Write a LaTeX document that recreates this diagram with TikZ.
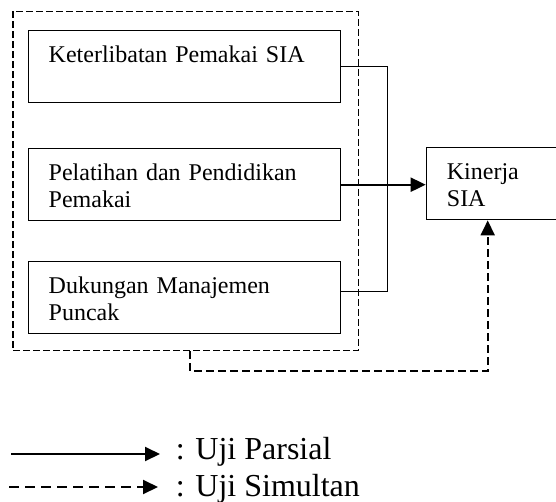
\documentclass[tikz,border=0pt]{standalone}
\usepackage{fontspec}
\setmainfont{Liberation Serif}
\usepackage{tikz}
\usetikzlibrary{arrows.meta,positioning}

\begin{document}
\begin{tikzpicture}[x=0.5pt,y=-0.5pt,>={Triangle[length=7.5pt,width=7pt]},
  kotak/.style={draw,line width=0.7pt,anchor=north west,align=left,
    text width=#1,inner xsep=10.25pt,inner ysep=7pt,text height=9pt,text depth=13pt,
    font=\fontsize{12}{13.4}\selectfont},
  garis/.style={line width=0.6pt},
  putus/.style={line width=1pt,dash pattern=on 4pt off 2pt},
  ket/.style={anchor=base west,inner sep=0pt,font=\fontsize{16}{19}\selectfont}]
\path[use as bounding box,clip](0,0) rectangle (556,502);
\node[draw,dash pattern=on 3.3pt off 1.7pt,line width=0.6pt,anchor=north west,
  minimum width=172.6pt,minimum height=169.7pt,inner sep=0pt](blok) at (12.4,10.7){};
\node[kotak=135.75pt](ket) at (27.5,30){Keterlibatan Pemakai SIA};
\node[kotak=135.75pt](pel) at (27.5,148){Pelatihan dan Pendidikan\\Pemakai};
\node[kotak=135.75pt](duk) at (27.5,261){Dukungan Manajemen\\Puncak};
\node[kotak=65pt](kin) at (425.7,147){Kinerja\\SIA};
\draw[garis](ket.east)--++(46,0)|-([yshift=3pt]duk.east);
\draw[->,line width=1pt](pel.east)--(pel.east-|kin.west);
\draw[->,putus]([xshift=2.3pt]blok.south)--++(0,20)-|([xshift=31pt]kin.south west);
\coordinate(a1) at (11,454); \coordinate(a2) at (160,454);
\coordinate(b1) at (9,487); \coordinate(b2) at (158,487);
\draw[->,line width=1pt](a1)--(a2);
\draw[->,line width=1pt,dash pattern=on 5pt off 3pt](b1)--(b2);
\node[ket](uji1) at (175.5,459.3){: Uji Parsial};
\node[ket](uji2) at (175.5,496.7){: Uji Simultan};
\end{tikzpicture}
\end{document}
